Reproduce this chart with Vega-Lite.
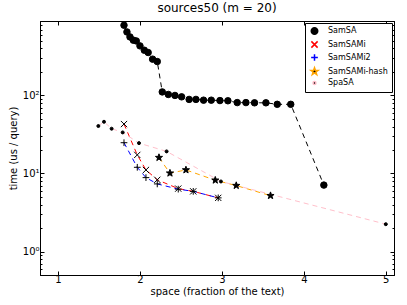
{
  "$schema": "https://vega.github.io/schema/vega-lite/v6.json",
  "width": 354,
  "height": 254,
  "autosize": "none",
  "padding": {"left": 40, "top": 21, "right": 13, "bottom": 30},
  "background": "white",
  "title": {"text": "sources50 (m = 20)", "font": "DejaVu Sans", "fontSize": 12, "fontWeight": "normal", "color": "black", "offset": 5},
  "config": {
    "view": {"stroke": "black", "strokeWidth": 1},
    "axis": {"grid": false, "domainColor": "black", "tickColor": "black", "labelColor": "black", "titleColor": "black", "labelFont": "DejaVu Sans", "titleFont": "DejaVu Sans", "labelFontSize": 10, "titleFontSize": 10, "titleFontWeight": "normal"},
    "legend": {"title": null, "orient": "top-right", "offset": 2, "strokeColor": "black", "fillColor": "white", "padding": 4, "labelFont": "DejaVu Sans", "labelFontSize": 8, "labelColor": "black", "rowPadding": 0, "labelOffset": 8, "cornerRadius": 0, "symbolFillColor": "black"}
  },
  "data": {"values": [
    {"s": "SamSA", "x": 1.805, "y": 795},
    {"s": "SamSA", "x": 1.841, "y": 652},
    {"s": "SamSA", "x": 1.878, "y": 563},
    {"s": "SamSA", "x": 1.919, "y": 511},
    {"s": "SamSA", "x": 1.955, "y": 500},
    {"s": "SamSA", "x": 2.0, "y": 432},
    {"s": "SamSA", "x": 2.053, "y": 380},
    {"s": "SamSA", "x": 2.1, "y": 355},
    {"s": "SamSA", "x": 2.154, "y": 292},
    {"s": "SamSA", "x": 2.211, "y": 272},
    {"s": "SamSA", "x": 2.272, "y": 111},
    {"s": "SamSA", "x": 2.346, "y": 103},
    {"s": "SamSA", "x": 2.427, "y": 100},
    {"s": "SamSA", "x": 2.508, "y": 96},
    {"s": "SamSA", "x": 2.6, "y": 89},
    {"s": "SamSA", "x": 2.683, "y": 89},
    {"s": "SamSA", "x": 2.776, "y": 87},
    {"s": "SamSA", "x": 2.87, "y": 87},
    {"s": "SamSA", "x": 2.976, "y": 86},
    {"s": "SamSA", "x": 3.073, "y": 85.5},
    {"s": "SamSA", "x": 3.187, "y": 81},
    {"s": "SamSA", "x": 3.293, "y": 81},
    {"s": "SamSA", "x": 3.398, "y": 80.5},
    {"s": "SamSA", "x": 3.537, "y": 80.5},
    {"s": "SamSA", "x": 3.675, "y": 77},
    {"s": "SamSA", "x": 3.84, "y": 77},
    {"s": "SamSA", "x": 4.244, "y": 7.1},
    {"s": "SamSAMi", "x": 1.805, "y": 43},
    {"s": "SamSAMi", "x": 1.967, "y": 17.3},
    {"s": "SamSAMi", "x": 2.073, "y": 11.1},
    {"s": "SamSAMi", "x": 2.211, "y": 8.3},
    {"s": "SamSAMi", "x": 2.467, "y": 6.4},
    {"s": "SamSAMi", "x": 2.65, "y": 5.9},
    {"s": "SamSAMi", "x": 2.955, "y": 4.87},
    {"s": "SamSAMi2", "x": 1.805, "y": 24.8},
    {"s": "SamSAMi2", "x": 1.967, "y": 12.0},
    {"s": "SamSAMi2", "x": 2.073, "y": 8.85},
    {"s": "SamSAMi2", "x": 2.211, "y": 7.35},
    {"s": "SamSAMi2", "x": 2.467, "y": 6.3},
    {"s": "SamSAMi2", "x": 2.65, "y": 5.9},
    {"s": "SamSAMi2", "x": 2.955, "y": 4.87},
    {"s": "SamSAMi-hash", "x": 2.232, "y": 16.0},
    {"s": "SamSAMi-hash", "x": 2.366, "y": 10.1},
    {"s": "SamSAMi-hash", "x": 2.561, "y": 11.1},
    {"s": "SamSAMi-hash", "x": 2.919, "y": 8.2},
    {"s": "SamSAMi-hash", "x": 3.175, "y": 7.0},
    {"s": "SamSAMi-hash", "x": 3.593, "y": 5.2},
    {"s": "SpaSA", "x": 1.492, "y": 40.6},
    {"s": "SpaSA", "x": 1.561, "y": 46},
    {"s": "SpaSA", "x": 1.654, "y": 37.5},
    {"s": "SpaSA", "x": 1.789, "y": 33.6},
    {"s": "SpaSA", "x": 1.988, "y": 24.5},
    {"s": "SpaSA", "x": 2.325, "y": 19.2},
    {"s": "SpaSA", "x": 2.988, "y": 7.9},
    {"s": "SpaSA", "x": 5.0, "y": 2.24}
  ]},
  "resolve": {"axis": {"x": "independent", "y": "independent"}},
  "layer": [
    {
      "mark": {"type": "line", "strokeWidth": 1, "strokeDash": [5, 4]},
      "encoding": {
        "x": {"field": "x", "type": "quantitative", "scale": {"domain": [0.78, 5.1], "nice": false, "zero": false},
          "axis": {"orient": "bottom", "values": [1, 2, 3, 4, 5], "format": "d", "title": "space (fraction of the text)", "tickSize": -4, "labelPadding": 3, "titlePadding": 2}},
        "y": {"field": "y", "type": "quantitative", "scale": {"type": "log", "domain": [0.5, 900], "nice": false},
          "axis": {"orient": "left", "title": "time (us / query)", "values": [0.5,0.6,0.7,0.8,0.9,1,2,3,4,5,6,7,8,9,10,20,30,40,50,60,70,80,90,100,200,300,400,500,600,700,800,900],
            "labelExpr": "datum.value == 1 ? '10⁰' : datum.value == 10 ? '10¹' : datum.value == 100 ? '10²' : ''",
            "tickSize": {"condition": {"test": "datum.value == 1 || datum.value == 10 || datum.value == 100", "value": -4}, "value": -2},
            "labelPadding": 5, "titlePadding": 4}},
        "stroke": {"field": "s", "type": "nominal",
          "scale": {"domain": ["SamSA", "SamSAMi", "SamSAMi2", "SamSAMi-hash", "SpaSA"], "range": ["black", "red", "blue", "orange", "pink"]}},
        "detail": {"field": "s"}
      }
    },
    {
      "mark": {"type": "point", "filled": true, "fill": "black", "stroke": "black", "strokeWidth": 1, "opacity": 1},
      "encoding": {
        "x": {"field": "x", "type": "quantitative",
          "axis": {"orient": "top", "values": [1, 2, 3, 4, 5], "labels": false, "title": null, "tickSize": -4}},
        "y": {"field": "y", "type": "quantitative",
          "axis": {"orient": "right", "labels": false, "title": null, "values": [0.5,0.6,0.7,0.8,0.9,1,2,3,4,5,6,7,8,9,10,20,30,40,50,60,70,80,90,100,200,300,400,500,600,700,800,900],
            "tickSize": {"condition": {"test": "datum.value == 1 || datum.value == 10 || datum.value == 100", "value": -4}, "value": -2}}},
        "shape": {"field": "s", "type": "nominal",
          "scale": {"domain": ["SamSA", "SamSAMi", "SamSAMi2", "SamSAMi-hash", "SpaSA"],
            "range": ["circle", "M-0.7,-0.7L0.7,0.7M-0.7,0.7L0.7,-0.7", "M-1,0L1,0M0,-1L0,1", "M0,-1L0.235,-0.324L0.951,-0.309L0.38,0.124L0.588,0.809L0,0.4L-0.588,0.809L-0.38,0.124L-0.951,-0.309L-0.235,-0.324Z", "circle"]}},
        "size": {"field": "s", "type": "nominal",
          "scale": {"type": "ordinal", "domain": ["SamSA", "SamSAMi", "SamSAMi2", "SamSAMi-hash", "SpaSA"], "range": [42, 80, 45, 56, 9]}}
      }
    }
  ]
}
